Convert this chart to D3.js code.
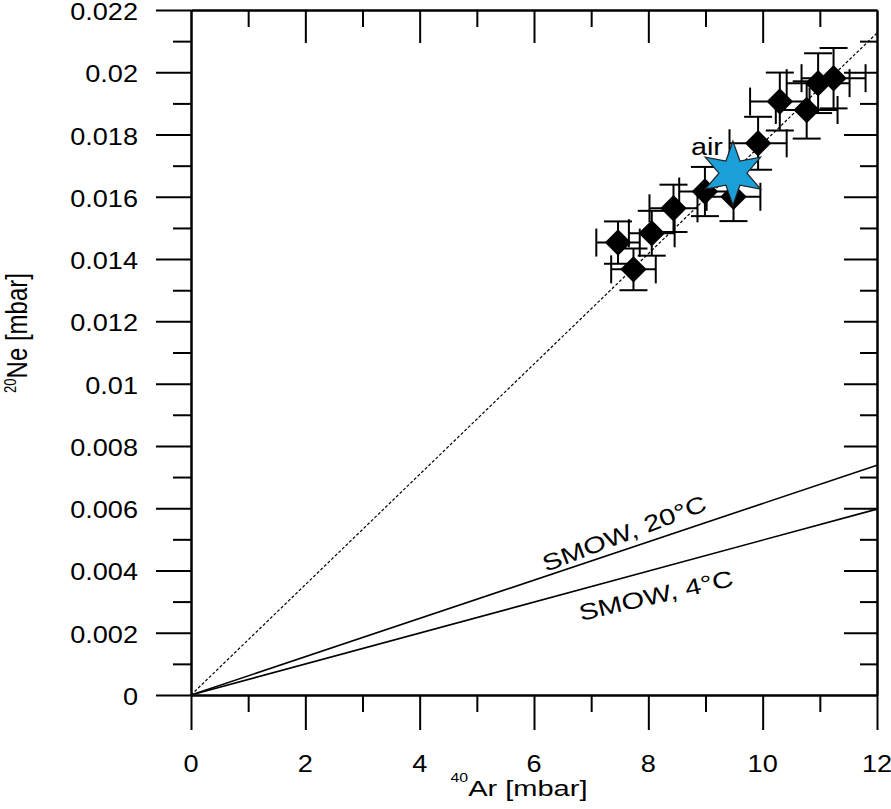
<!DOCTYPE html>
<meta charset="utf-8">
<style>
body { margin: 0; background: #fff; }
text { font-family: 'Liberation Sans', Arial, Helvetica, sans-serif; fill: #000; }
</style>
<body>
<div id="chart"></div>
<script src="https://d3js.org/d3.v7.min.js"></script>
<script>
// samples: 40Ar and 20Ne partial pressures [mbar]
var ar    = [7.47, 7.74, 8.06, 8.44, 8.99, 9.49, 9.92, 10.30, 10.77, 10.97, 11.24];
var ne    = [0.01453, 0.01367, 0.01483, 0.01563, 0.01617, 0.01600, 0.01772, 0.01906, 0.01879, 0.01965, 0.01981];
var arErr = [0.38, 0.39, 0.40, 0.42, 0.45, 0.47, 0.50, 0.52, 0.54, 0.55, 0.56];
var neErr = [0.00068, 0.00067, 0.00072, 0.00076, 0.00079, 0.00078, 0.00085, 0.00093, 0.00092, 0.00096, 0.00097];

// air point and reference lines
var airAr = 9.48, airNe = 0.01676;
var lineAr    = [0, 12];
var airLineNe = [0, 0.02126];
var smow20Ne  = [0, 0.00738];
var smow4Ne   = [0, 0.00597];

var xMajor = [0, 2, 4, 6, 8, 10, 12];
var xMinor = [1, 3, 5, 7, 9, 11];
var yMajor = [0, 0.002, 0.004, 0.006, 0.008, 0.010, 0.012, 0.014, 0.016, 0.018, 0.020, 0.022];
var yMinor = [0.001, 0.003, 0.005, 0.007, 0.009, 0.011, 0.013, 0.015, 0.017, 0.019, 0.021];
var yLabels = ["0", "0.002", "0.004", "0.006", "0.008", "0.01", "0.012", "0.014", "0.016", "0.018", "0.02", "0.022"];

var width = 891, height = 809;

var svg = d3.select("#chart").append("svg")
    .attr("width", width)
    .attr("height", height);

var x = d3.scaleLinear().domain([0, 12]).range([191, 877]);
var y = d3.scaleLinear().domain([0, 0.022]).range([695, 10]);

// text in this figure is drawn wide, so stretch it horizontally
function addText(px, py, str, size, anchor, k, angle) {
  return svg.append("text")
    .attr("transform", "translate(" + px + "," + py + ") rotate(" + (angle || 0) + ") scale(" + k + ",1)")
    .attr("text-anchor", anchor)
    .style("font-size", size + "px")
    .text(str);
}

// axes: left/bottom ticks go out, top/right ticks go in
function drawAxis(gen, pos, values, size) {
  var g = svg.append("g")
      .attr("transform", pos)
      .call(gen.tickValues(values).tickSize(size).tickSizeOuter(0).tickFormat(""));
  g.select(".domain").attr("stroke", "#000").attr("stroke-width", 2);
  g.selectAll(".tick line").attr("stroke", "#000").attr("stroke-width", 2);
  return g;
}

drawAxis(d3.axisBottom(x), "translate(0,695)", xMajor, 35);
drawAxis(d3.axisBottom(x), "translate(0,695)", xMinor, 17);
drawAxis(d3.axisLeft(y), "translate(191,0)", yMajor, 35);
drawAxis(d3.axisLeft(y), "translate(191,0)", yMinor, 18);
drawAxis(d3.axisTop(x), "translate(0,10)", xMajor.slice(1, -1), -33);
drawAxis(d3.axisTop(x), "translate(0,10)", xMinor, -17);
drawAxis(d3.axisRight(y), "translate(877,0)", yMajor.slice(1, -1), -33);
drawAxis(d3.axisRight(y), "translate(877,0)", yMinor, -17);

xMajor.forEach(function(v) {
  addText(x(v), 772, String(v), 24, "middle", 1.13);
});
yMajor.forEach(function(v, i) {
  addText(138, y(v) + 10, yLabels[i], 24, "end", 1.13);
});

// axis titles
var xt = svg.append("text")
    .attr("transform", "translate(519,796) scale(1.32,1)")
    .attr("text-anchor", "middle");
xt.append("tspan").style("font-size", "12px").attr("dy", -14).text("40");
xt.append("tspan").style("font-size", "22px").attr("dy", 14).text("Ar [mbar]");

var yt = svg.append("text")
    .attr("transform", "translate(27,333) scale(1.22,1) rotate(-90)")
    .attr("text-anchor", "middle");
yt.append("tspan").style("font-size", "13px").attr("dy", -9).text("20");
yt.append("tspan").style("font-size", "24px").attr("dy", 9).text("Ne [mbar]");

// reference lines
var line = d3.line()
    .x(function(d) { return x(d[0]); })
    .y(function(d) { return y(d[1]); });

svg.append("path")
    .attr("d", line(d3.zip(lineAr, airLineNe)))
    .attr("fill", "none").attr("stroke", "#000")
    .attr("stroke-width", 1.2).attr("stroke-dasharray", "3,2");
[smow20Ne, smow4Ne].forEach(function(s) {
  svg.append("path")
      .attr("d", line(d3.zip(lineAr, s)))
      .attr("fill", "none").attr("stroke", "#000")
      .attr("stroke-width", 1.6);
});

// line labels (data position of baseline start)
addText(x(6.21), y(0.00395), "SMOW, 20°C", 23, "start", 1.27, -21);
addText(x(6.82), y(0.00238), "SMOW, 4°C", 23, "start", 1.27, -13);

// error bars
var cap = 14;
var bars = svg.append("g").attr("stroke", "#000").attr("stroke-width", 2);
ar.forEach(function(a, i) {
  var cx = x(a), cy = y(ne[i]);
  var xl = x(a - arErr[i]), xr = x(a + arErr[i]);
  var yb = y(ne[i] - neErr[i]), yt2 = y(ne[i] + neErr[i]);
  bars.append("line").attr("x1", xl).attr("x2", xr).attr("y1", cy).attr("y2", cy);
  bars.append("line").attr("x1", xl).attr("x2", xl).attr("y1", cy - cap).attr("y2", cy + cap);
  bars.append("line").attr("x1", xr).attr("x2", xr).attr("y1", cy - cap).attr("y2", cy + cap);
  bars.append("line").attr("x1", cx).attr("x2", cx).attr("y1", yb).attr("y2", yt2);
  bars.append("line").attr("x1", cx - cap).attr("x2", cx + cap).attr("y1", yb).attr("y2", yb);
  bars.append("line").attr("x1", cx - cap).attr("x2", cx + cap).attr("y1", yt2).attr("y2", yt2);
});

// diamonds
svg.selectAll(".pt")
  .data(d3.range(ar.length))
  .enter().append("path")
    .attr("class", "pt")
    .attr("d", d3.symbol(d3.symbolSquare, 350)())
    .attr("transform", function(i) { return "translate(" + x(ar[i]) + "," + y(ne[i]) + ") rotate(45)"; })
    .attr("fill", "#000");

// air star (six points)
var R = 32, r = 14;
var starPts = d3.range(12).map(function(k) {
  var ang = -Math.PI / 2 + k * Math.PI / 6;
  var rad = k % 2 ? r : R;
  return [Math.cos(ang) * rad, Math.sin(ang) * rad];
});
svg.append("path")
    .attr("d", d3.line()(starPts) + "Z")
    .attr("transform", "translate(" + x(airAr) + "," + y(airNe) + ")")
    .attr("fill", "#1b9fd8")
    .attr("stroke", "#222")
    .attr("stroke-width", 1.2);

addText(x(airAr) - 10, y(airNe) - 18, "air", 23, "end", 1.25);
</script>
